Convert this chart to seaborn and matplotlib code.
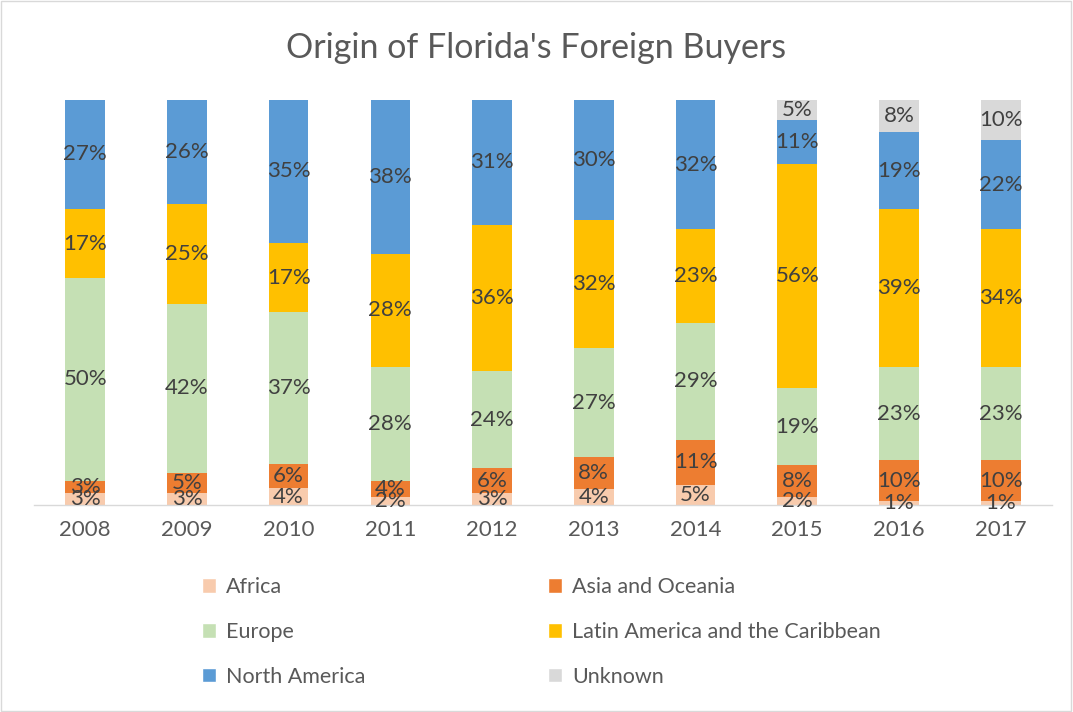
import matplotlib
matplotlib.use("Agg")
import matplotlib.pyplot as plt
import seaborn as sns
import pandas as pd
from matplotlib.patches import Rectangle, Patch

# data (percent of foreign buyers)
years = ['2008', '2009', '2010', '2011', '2012', '2013', '2014', '2015', '2016', '2017']
africa = [3, 3, 4, 2, 3, 4, 5, 2, 1, 1]
asia_oceania = [3, 5, 6, 4, 6, 8, 11, 8, 10, 10]
europe = [50, 42, 37, 28, 24, 27, 29, 19, 23, 23]
latin_america = [17, 25, 17, 28, 36, 32, 23, 56, 39, 34]
north_america = [27, 26, 35, 38, 31, 30, 32, 11, 19, 22]
unknown = [0, 0, 0, 0, 0, 0, 0, 5, 8, 10]

series = ['Africa', 'Asia and Oceania', 'Europe',
          'Latin America and the Caribbean', 'North America', 'Unknown']
colors = ['#F8CBAD', '#ED7D31', '#C5E0B4', '#FFC000', '#5B9BD5', '#D9D9D9']

df = pd.DataFrame({'Year': years,
                   series[0]: africa, series[1]: asia_oceania, series[2]: europe,
                   series[3]: latin_america, series[4]: north_america, series[5]: unknown})

sns.set_style('white')
plt.rcParams['font.family'] = ['Lato', 'DejaVu Sans']

fig = plt.figure(figsize=(10.73, 7.12), dpi=100)
ax = fig.add_axes([0.032, 0.291, 0.948, 0.569])

# 100% stacked: normalise each year
totals = df[series].sum(axis=1)
bottom = pd.Series([0.0] * len(df))
for name, col in zip(series, colors):
    share = df[name] / totals * 100
    sns.barplot(x=df['Year'], y=share, color=col, width=0.39,
                bottom=bottom.values, ax=ax, saturation=1, linewidth=0)
    for i, (v, b, s) in enumerate(zip(df[name], bottom, share)):
        if v > 0:
            ax.text(i, b + s / 2, f'{v}%', ha='center', va='center',
                    fontsize=16, color='#404040')
    bottom = bottom + share

ax.set_ylim(0, 100)
ax.set_xlim(-0.5, len(years) - 0.5)
ax.set_yticks([])
ax.set_xlabel('')
ax.set_ylabel('')
for sp in ['top', 'right', 'left']:
    ax.spines[sp].set_visible(False)
ax.spines['bottom'].set_color('#D9D9D9')
ax.spines['bottom'].set_linewidth(1)
ax.tick_params(axis='x', length=0, labelsize=16, labelcolor='#595959', pad=11)

fig.text(0.5, 0.933, "Origin of Florida's Foreign Buyers", ha='center', va='center',
         fontsize=24.5, color='#595959')

order = [0, 2, 4, 1, 3, 5]
handles = [Patch(facecolor=colors[k], label=series[k]) for k in order]
fig.legend(handles=handles, ncol=2, loc='upper left', bbox_to_anchor=(0.1705, 0.2165),
           frameon=False, fontsize=15.5, labelcolor='#595959', handlelength=0.65,
           handleheight=0.65, handletextpad=0.45, columnspacing=8.5, labelspacing=1.15)

fig.patches.append(Rectangle((0.001, 0.001), 0.997, 0.997, transform=fig.transFigure,
                             fill=False, edgecolor='#D9D9D9', linewidth=1))

fig.savefig('out.png', dpi=100)
